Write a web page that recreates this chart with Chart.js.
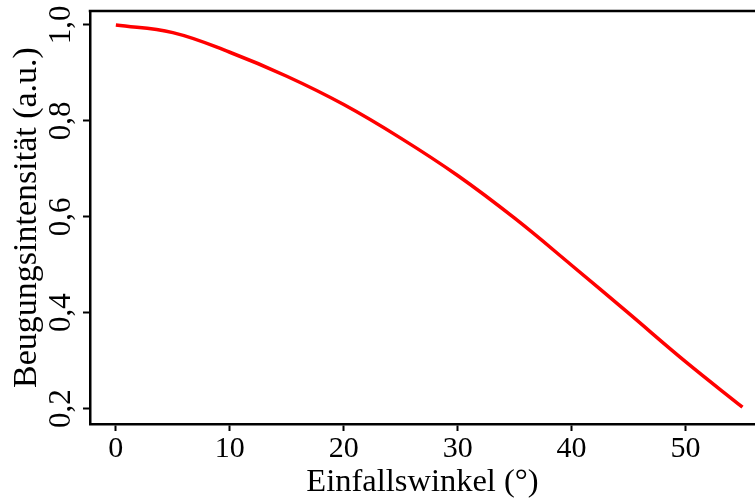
<!DOCTYPE html>
<html lang="de">
<head>
<meta charset="UTF-8">
<title>Beugungsintensität</title>
<script src="https://cdn.jsdelivr.net/npm/chart.js@4.4.0/dist/chart.umd.min.js"></script>
<style>
  body { margin: 0; background: #fff; }
</style>
</head>
<body>
<canvas id="beugungChart" width="755" height="503"></canvas>
<script>
// Einfallswinkel in Grad und normierte Beugungsintensität
var winkel = [0, 5, 10, 15, 20, 25, 30, 35, 40, 45, 50, 55];
var intensitaet = [1.000, 0.984, 0.943, 0.893, 0.834, 0.764, 0.686, 0.597, 0.499, 0.399, 0.298, 0.203];

var xTicks = [0, 10, 20, 30, 40, 50];
var yTicks = [0.2, 0.4, 0.6, 0.8, 1.0];

Chart.defaults.font.family = "'Liberation Serif', 'DejaVu Serif', serif";
Chart.defaults.color = '#000';

// oberer Rahmen des Plotbereichs
var rahmenOben = {
    id: 'rahmenOben',
    afterDraw: function(chart) {
        var a = chart.chartArea;
        var ctx = chart.ctx;
        ctx.save();
        ctx.strokeStyle = '#000';
        ctx.lineWidth = 2.5;
        ctx.beginPath();
        ctx.moveTo(a.left - 1.25, a.top);
        ctx.lineTo(a.right, a.top);
        ctx.stroke();
        ctx.restore();
    }
};

var punkte = winkel.map(function(w, i) {
    return { x: w, y: intensitaet[i] };
});

var ctx = document.getElementById('beugungChart').getContext('2d');
var beugungChart = new Chart(ctx, {
    type: 'line',
    data: {
        datasets: [{
            data: punkte,
            borderColor: '#ff0000',
            borderWidth: 3.5,
            pointRadius: 0,
            fill: false,
            tension: 0.4
        }]
    },
    options: {
        responsive: false,
        animation: false,
        devicePixelRatio: 1,
        layout: { padding: { top: 11, left: 0, right: 0, bottom: 0 } },
        plugins: {
            legend: { display: false },
            tooltip: { enabled: false }
        },
        scales: {
            x: {
                type: 'linear',
                min: -2.27,
                max: 56.1,
                afterBuildTicks: function(scale) {
                    scale.ticks = xTicks.map(function(v) { return { value: v }; });
                },
                afterFit: function(scale) {
                    scale.height = 79;
                    scale.paddingLeft = 0;
                    scale.paddingRight = 0;
                },
                grid: { drawOnChartArea: false, drawTicks: true, tickLength: 7, tickWidth: 2, tickColor: '#000' },
                border: { display: true, color: '#000', width: 2.5 },
                ticks: { color: '#000', font: { size: 30 }, padding: 0, maxRotation: 0, autoSkip: false },
                title: {
                    display: true,
                    text: 'Einfallswinkel (°)',
                    color: '#000',
                    font: { size: 32.5 },
                    padding: { top: 0, bottom: 1 }
                }
            },
            y: {
                type: 'linear',
                min: 0.168,
                max: 1.029,
                afterBuildTicks: function(scale) {
                    scale.ticks = yTicks.map(function(v) { return { value: v }; });
                },
                afterFit: function(scale) {
                    scale.width = 90;
                    scale.paddingTop = 0;
                    scale.paddingBottom = 0;
                },
                grid: { drawOnChartArea: false, drawTicks: true, tickLength: 7, tickWidth: 2, tickColor: '#000' },
                border: { display: true, color: '#000', width: 2.5 },
                ticks: {
                    color: '#000',
                    font: { size: 31 },
                    minRotation: 90,
                    maxRotation: 90,
                    crossAlign: 'center',
                    padding: 2,
                    callback: function(v) { return v.toFixed(1).replace('.', ','); }
                },
                title: {
                    display: true,
                    text: 'Beugungsintensität (a.u.)',
                    color: '#000',
                    font: { size: 34 },
                    padding: { top: 7, bottom: 0 }
                }
            }
        }
    },
    plugins: [rahmenOben]
});
</script>
</body>
</html>
